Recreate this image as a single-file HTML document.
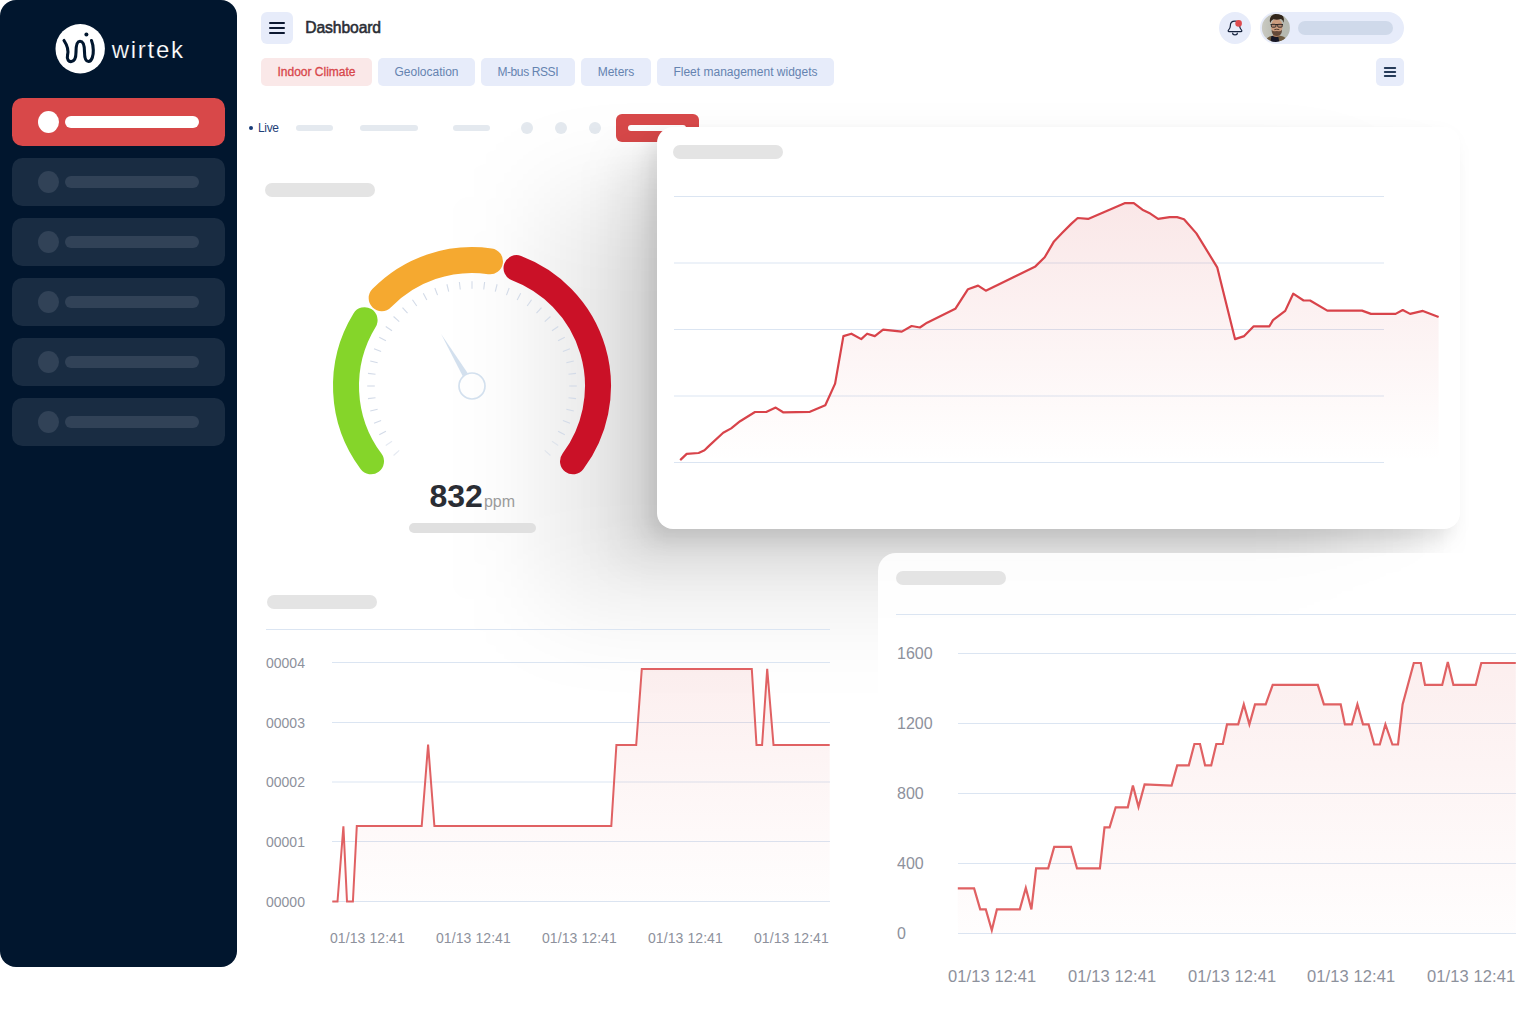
<!DOCTYPE html>
<html><head><meta charset="utf-8">
<style>
*{margin:0;padding:0;box-sizing:border-box}
html,body{width:1540px;height:1011px;overflow:hidden;background:#fff;font-family:"Liberation Sans",sans-serif}
.abs{position:absolute}
#side{left:0;top:0;width:237px;height:967px;background:#01162e;border-radius:16px}
.item{position:absolute;left:12px;width:213px;height:48px;border-radius:10.5px;background:#192c42}
.item i{position:absolute;left:26px;top:13px;width:21px;height:22px;border-radius:50%;background:#314257}
.item b{position:absolute;left:53px;top:18px;width:134px;height:12px;border-radius:6px;background:#314257}
.item.act{background:#d84849}
.item.act i,.item.act b{background:#fff}
.tab{position:absolute;top:58px;height:28px;border-radius:5px;background:#e7ecfa;color:#6583b0;font-size:12px;line-height:28px;text-align:center;white-space:nowrap}
.ph{position:absolute;background:#e4e4e4;border-radius:7px;height:14px}
.lb{position:absolute;background:#e4e9ef;border-radius:3px;height:6px;top:125px}
.lc{position:absolute;background:#e4e9ef;border-radius:50%;width:12px;height:12px;top:122px}
.yl{position:absolute;color:#8d919c;white-space:nowrap}
svg{position:absolute;left:0;top:0;overflow:visible}
</style></head><body>

<!-- sidebar -->
<div id="side" class="abs">
 <svg width="237" height="100" viewBox="0 0 237 100">
  <circle cx="80.2" cy="48.7" r="24.7" fill="#fff"/>
  <path d="M64 40.5 C67 45,69 50,67.5 55.5 C66.5 59.5,69 62,71.5 61.5 C75 61,76 57,76 52 C76 46,77 41.2,80 41.2 C83.5 41.2,84.5 46,84.5 52 C84.5 58,86 61.5,88.5 61.5 C92 61.5,93.5 55,93.3 50 C93.2 46,92.5 43,91.5 40.5" fill="none" stroke="#01162e" stroke-width="3.1" stroke-linecap="round"/>
  <circle cx="86.4" cy="34.4" r="2" fill="#01162e"/>
  <text x="111.7" y="58" font-size="24" fill="#fff" stroke="#01162e" stroke-width="0.2" paint-order="fill stroke" font-family="Liberation Sans" letter-spacing="1.75">wirtek</text>
 </svg>
 <div class="item act" style="top:98px"><i></i><b></b></div>
 <div class="item" style="top:158px"><i></i><b></b></div>
 <div class="item" style="top:218px"><i></i><b></b></div>
 <div class="item" style="top:278px"><i></i><b></b></div>
 <div class="item" style="top:338px"><i></i><b></b></div>
 <div class="item" style="top:398px"><i></i><b></b></div>
</div>

<!-- header -->
<div class="abs" style="left:261px;top:12px;width:32px;height:32px;border-radius:6px;background:#e7ecfa"></div>
<svg width="1540" height="110" viewBox="0 0 1540 110">
 <g stroke="#0b1730" stroke-width="2" stroke-linecap="round">
  <line x1="270" y1="23" x2="284" y2="23"/><line x1="270" y1="28" x2="284" y2="28"/><line x1="270" y1="33" x2="284" y2="33"/>
 </g>
</svg>
<div class="abs" style="left:305.3px;top:18px;font-size:15.7px;line-height:20px;color:#2a2d34;letter-spacing:-0.12px;-webkit-text-stroke:0.55px #2a2d34;white-space:nowrap">Dashboard</div>

<div class="tab" style="left:261px;width:111px;background:#fae8e8;color:#d8474b;-webkit-text-stroke:0.3px #d8474b">Indoor Climate</div>
<div class="tab" style="left:378px;width:97px">Geolocation</div>
<div class="tab" style="left:481px;width:93.5px;letter-spacing:-0.4px">M-bus RSSI</div>
<div class="tab" style="left:581px;width:70px">Meters</div>
<div class="tab" style="left:657px;width:177px">Fleet management widgets</div>

<!-- bell -->
<div class="abs" style="left:1219px;top:12px;width:32px;height:32px;border-radius:50%;background:#e7ecfa"></div>
<svg width="1540" height="60" viewBox="0 0 1540 60">
 <g transform="translate(0,0)"><path d="M1229 31.6 L1241 31.6 C1241.9 31.6 1242.1 30.8 1241.5 30.2 C1240.2 28.9 1239.7 27.8 1239.7 26 C1239.7 23.1 1237.7 21.2 1235 21.2 C1232.3 21.2 1230.3 23.1 1230.3 26 C1230.3 27.8 1229.8 28.9 1228.5 30.2 C1227.9 30.8 1228.1 31.6 1229 31.6 Z" fill="none" stroke="#15223d" stroke-width="1.2" stroke-linejoin="round"/>
 <path d="M1232.7 33.2 a2.3 1.6 0 0 0 4.6 0" fill="none" stroke="#15223d" stroke-width="1.2" stroke-linecap="round"/></g>
 <circle cx="1238.6" cy="23.4" r="3.3" fill="#de4a4d"/>
</svg>
<!-- user pill -->
<div class="abs" style="left:1260px;top:12px;width:144px;height:32px;border-radius:16px;background:#e7ecfa"></div>
<div class="abs" style="left:1298px;top:21px;width:95px;height:14px;border-radius:7px;background:#cfd9ea"></div>
<svg width="1540" height="60" viewBox="0 0 1540 60">
 <defs><clipPath id="av"><circle cx="1275.9" cy="27.9" r="14"/></clipPath>
  <filter id="avb" x="-20%" y="-20%" width="140%" height="140%"><feGaussianBlur stdDeviation="0.45"/></filter>
  <linearGradient id="avbg" x1="0" x2="1" y1="0" y2="0"><stop offset="0" stop-color="#cbcbc3"/><stop offset="0.5" stop-color="#b7b9b0"/><stop offset="1" stop-color="#b4b8b0"/></linearGradient>
 </defs>
 <g clip-path="url(#av)">
  <rect x="1261" y="13" width="30" height="30" fill="url(#avbg)"/>
  <g filter="url(#avb)">
   <path d="M1264.500 42 q1.500 -5 8 -6.200 l7.500 0 q7 1.200 8.500 6.200 z" fill="#6d5a40"/>
   <path d="M1271.400 36 l6.800 0 l1.200 6.500 l-9 0 z" fill="#151925"/>
   <path d="M1273 31 l6.800 0 l0 5 q-3.400 2.200 -6.800 0 z" fill="#b08162"/>
   <ellipse cx="1276.800" cy="26.200" rx="5.800" ry="7.500" fill="#cc9c7e"/>
   <path d="M1270.200 23 q-1.200 -4.500 1.200 -7 q2 -2.200 5.500 -2.300 q4.500 -0.200 6.300 2.800 q1.400 2.600 0.400 6.300 q-0.800 -3 -2.600 -3.700 q-3.800 1 -7.600 0.200 q-2.400 0.900 -3.200 3.700z" fill="#33251c"/>
   <path d="M1271.600 29.800 q1.500 1.800 3.300 1.500 q1.900 -0.700 3.800 0 q1.800 0.300 3.300 -1.500 q0 4.800 -3 5.800 q-2.200 0.700 -4.400 0 q-3 -1 -3 -5.800z" fill="#5b4133" opacity="0.9"/>
   <path d="M1274.300 29.700 q2.500 -1 5 0" stroke="#4a3428" stroke-width="0.9" fill="none"/>
   <path d="M1270.600 24.600 h12.400" stroke="#1c1a1c" stroke-width="1"/>
   <rect x="1271.400" y="24.300" width="4.500" height="2.900" rx="1" fill="#b58a72" stroke="#1c1a1c" stroke-width="0.8"/>
   <rect x="1277.700" y="24.300" width="4.500" height="2.900" rx="1" fill="#b58a72" stroke="#1c1a1c" stroke-width="0.8"/>
  </g>
 </g>
</svg>

<!-- small menu btn -->
<div class="abs" style="left:1376px;top:58px;width:28px;height:28px;border-radius:5px;background:#e7ecfa"></div>
<svg width="1540" height="110" viewBox="0 0 1540 110">
 <g stroke="#263b59" stroke-width="2" stroke-linecap="round">
  <line x1="1384.8" y1="68" x2="1395.2" y2="68"/><line x1="1384.8" y1="72" x2="1395.2" y2="72"/><line x1="1384.8" y1="76" x2="1395.2" y2="76"/>
 </g>
</svg>

<!-- live row -->
<div class="abs" style="left:248.7px;top:125.8px;width:4.4px;height:4.4px;border-radius:50%;background:#163a78"></div>
<div class="abs" style="left:258px;top:121px;font-size:12px;line-height:14px;color:#1f3f78;letter-spacing:-0.35px">Live</div>
<div class="lb" style="left:296px;width:37px"></div>
<div class="lb" style="left:360px;width:58px"></div>
<div class="lb" style="left:453px;width:37px"></div>
<div class="lc" style="left:521px"></div>
<div class="lc" style="left:555px"></div>
<div class="lc" style="left:589px"></div>
<div class="abs" style="left:616px;top:114px;width:83px;height:28px;border-radius:6px;background:#d84849"></div>
<div class="abs" style="left:628px;top:125px;width:58px;height:6px;border-radius:3px;background:#fff"></div>

<!-- big card shadow (below br card) -->
<svg width="1540" height="1011" viewBox="0 0 1540 1011" style="pointer-events:none">
 <defs>
  <filter id="f1" filterUnits="userSpaceOnUse" x="300" y="-100" width="1500" height="1000"><feGaussianBlur stdDeviation="9"/></filter>
  <filter id="f2" filterUnits="userSpaceOnUse" x="200" y="-200" width="1700" height="1300"><feGaussianBlur stdDeviation="22"/></filter>
  <filter id="f3" filterUnits="userSpaceOnUse" x="0" y="-300" width="2000" height="1600"><feGaussianBlur stdDeviation="50"/></filter>
 </defs>
 <rect x="547" y="197" width="803" height="402" rx="16" fill="#000" fill-opacity="0.095" filter="url(#f3)"/>
 <rect x="622" y="157" width="803" height="402" rx="16" fill="#000" fill-opacity="0.09" filter="url(#f2)"/>
 <rect x="649" y="137" width="803" height="402" rx="16" fill="#000" fill-opacity="0.095" filter="url(#f1)"/>
</svg>

<!-- gauge -->
<div class="ph" style="left:265px;top:183px;width:110px"></div>
<svg width="1540" height="1011" viewBox="0 0 1540 1011">
 <g fill="none" stroke-width="26" stroke-linecap="round">
  <path d="M370.98,461.30 A126.0,126.0 0 0 1 364.57,320.17" stroke="#85d52a"/>
  <path d="M381.67,298.16 A126.0,126.0 0 0 1 489.97,261.29" stroke="#f5a930"/>
  <path d="M516.54,268.13 A126.0,126.0 0 0 1 573.02,461.30" stroke="#ca1127"/>
 </g>
 <g stroke="#d3dbe8" stroke-width="1.1">
<line x1="544.76" y1="450.46" x2="550.44" y2="455.50" opacity="0.6"/>
<line x1="551.99" y1="441.22" x2="558.25" y2="445.53" opacity="0.6"/>
<line x1="558.07" y1="431.17" x2="564.80" y2="434.70" opacity="1.0"/>
<line x1="562.88" y1="420.47" x2="569.99" y2="423.16" opacity="1.0"/>
<line x1="566.38" y1="409.26" x2="573.75" y2="411.08" opacity="1.0"/>
<line x1="568.49" y1="397.72" x2="576.04" y2="398.63" opacity="1.0"/>
<line x1="569.20" y1="386.00" x2="576.80" y2="386.00" opacity="1.0"/>
<line x1="568.49" y1="374.28" x2="576.04" y2="373.37" opacity="1.0"/>
<line x1="566.38" y1="362.74" x2="573.75" y2="360.92" opacity="1.0"/>
<line x1="562.88" y1="351.53" x2="569.99" y2="348.84" opacity="1.0"/>
<line x1="558.07" y1="340.83" x2="564.80" y2="337.30" opacity="1.0"/>
<line x1="551.99" y1="330.78" x2="558.25" y2="326.47" opacity="1.0"/>
<line x1="544.76" y1="321.54" x2="550.44" y2="316.50" opacity="1.0"/>
<line x1="536.46" y1="313.24" x2="541.50" y2="307.56" opacity="1.0"/>
<line x1="527.22" y1="306.01" x2="531.53" y2="299.75" opacity="1.0"/>
<line x1="517.17" y1="299.93" x2="520.70" y2="293.20" opacity="1.0"/>
<line x1="506.47" y1="295.12" x2="509.16" y2="288.01" opacity="1.0"/>
<line x1="495.26" y1="291.62" x2="497.08" y2="284.25" opacity="1.0"/>
<line x1="483.72" y1="289.51" x2="484.63" y2="281.96" opacity="1.0"/>
<line x1="472.00" y1="288.80" x2="472.00" y2="281.20" opacity="1.0"/>
<line x1="460.28" y1="289.51" x2="459.37" y2="281.96" opacity="1.0"/>
<line x1="448.74" y1="291.62" x2="446.92" y2="284.25" opacity="1.0"/>
<line x1="437.53" y1="295.12" x2="434.84" y2="288.01" opacity="1.0"/>
<line x1="426.83" y1="299.93" x2="423.30" y2="293.20" opacity="1.0"/>
<line x1="416.78" y1="306.01" x2="412.47" y2="299.75" opacity="1.0"/>
<line x1="407.54" y1="313.24" x2="402.50" y2="307.56" opacity="1.0"/>
<line x1="399.24" y1="321.54" x2="393.56" y2="316.50" opacity="1.0"/>
<line x1="392.01" y1="330.78" x2="385.75" y2="326.47" opacity="1.0"/>
<line x1="385.93" y1="340.83" x2="379.20" y2="337.30" opacity="1.0"/>
<line x1="381.12" y1="351.53" x2="374.01" y2="348.84" opacity="1.0"/>
<line x1="377.62" y1="362.74" x2="370.25" y2="360.92" opacity="1.0"/>
<line x1="375.51" y1="374.28" x2="367.96" y2="373.37" opacity="1.0"/>
<line x1="374.80" y1="386.00" x2="367.20" y2="386.00" opacity="1.0"/>
<line x1="375.51" y1="397.72" x2="367.96" y2="398.63" opacity="1.0"/>
<line x1="377.62" y1="409.26" x2="370.25" y2="411.08" opacity="1.0"/>
<line x1="381.12" y1="420.47" x2="374.01" y2="423.16" opacity="1.0"/>
<line x1="385.93" y1="431.17" x2="379.20" y2="434.70" opacity="1.0"/>
<line x1="392.01" y1="441.22" x2="385.75" y2="445.53" opacity="0.6"/>
<line x1="399.24" y1="450.46" x2="393.56" y2="455.50" opacity="0.6"/>
 </g>
 <path d="M441.11,333.98 L467.75,373.17 L462.77,376.13 Z" fill="#d3e0ee"/>
 <circle cx="472.0" cy="386.0" r="13" fill="none" stroke="#d3e0ee" stroke-width="1.7"/>
</svg>
<div class="abs" style="left:429.5px;top:477px;font-size:32px;line-height:38px;font-weight:bold;color:#2a2d34;white-space:nowrap">832<span style="font-size:16px;font-weight:normal;color:#9b9b9b;margin-left:1px">ppm</span></div>
<div class="ph" style="left:409px;top:523px;width:127px;height:10px;border-radius:5px;background:#e0e0e0"></div>

<!-- bottom-left chart -->
<div class="ph" style="left:267px;top:595px;width:110px"></div>
<svg width="1540" height="1011" viewBox="0 0 1540 1011">
 <defs><linearGradient id="g1" x1="0" y1="668" x2="0" y2="902" gradientUnits="userSpaceOnUse"><stop offset="0" stop-color="#e05a5a" stop-opacity="0.10"/><stop offset="1" stop-color="#e05a5a" stop-opacity="0.01"/></linearGradient></defs>
 <g stroke="#dbe5f2" stroke-width="1">
  <line x1="266" y1="629.5" x2="830" y2="629.5"/>
  <line x1="332" y1="662.5" x2="830" y2="662.5"/><line x1="332" y1="722.5" x2="830" y2="722.5"/><line x1="332" y1="782" x2="830" y2="782"/><line x1="332" y1="841.5" x2="830" y2="841.5"/><line x1="332" y1="901.5" x2="830" y2="901.5"/>
 </g>
 <path d="M332.3,901.6 L332.3,901.6 L337.5,901.6 L343.4,826.4 L347.0,901.6 L352.9,901.6 L356.8,826.0 L421.7,826.0 L428.1,744.5 L434.4,826.0 L611.3,826.0 L616.4,744.9 L636.2,744.9 L641.8,668.9 L751.8,668.9 L756.5,744.9 L762.1,744.9 L767.2,668.9 L773.5,744.9 L829.7,744.9 L829.7,901.6 Z" fill="url(#g1)"/>
 <polyline points="332.3,901.6 337.5,901.6 343.4,826.4 347.0,901.6 352.9,901.6 356.8,826.0 421.7,826.0 428.1,744.5 434.4,826.0 611.3,826.0 616.4,744.9 636.2,744.9 641.8,668.9 751.8,668.9 756.5,744.9 762.1,744.9 767.2,668.9 773.5,744.9 829.7,744.9" fill="none" stroke="#e06163" stroke-width="2" stroke-linejoin="miter"/>
</svg>
<div class="yl" style="left:266px;top:654.5px;font-size:14px;line-height:16px">00004</div>
<div class="yl" style="left:266px;top:714.5px;font-size:14px;line-height:16px">00003</div>
<div class="yl" style="left:266px;top:774.0px;font-size:14px;line-height:16px">00002</div>
<div class="yl" style="left:266px;top:833.5px;font-size:14px;line-height:16px">00001</div>
<div class="yl" style="left:266px;top:893.5px;font-size:14px;line-height:16px">00000</div>
<div class="yl" style="left:330px;top:930px;font-size:14px;line-height:16px;letter-spacing:0.08px">01/13 12:41</div>
<div class="yl" style="left:436px;top:930px;font-size:14px;line-height:16px;letter-spacing:0.08px">01/13 12:41</div>
<div class="yl" style="left:542px;top:930px;font-size:14px;line-height:16px;letter-spacing:0.08px">01/13 12:41</div>
<div class="yl" style="left:648px;top:930px;font-size:14px;line-height:16px;letter-spacing:0.08px">01/13 12:41</div>
<div class="yl" style="left:754px;top:930px;font-size:14px;line-height:16px;letter-spacing:0.08px">01/13 12:41</div>


<!-- bottom-right card -->
<div class="abs" style="left:878px;top:553px;width:700px;height:500px;border-radius:18px;background:rgba(255,255,255,0.9)"></div>
<div class="ph" style="left:896px;top:571px;width:110px"></div>
<svg width="1540" height="1011" viewBox="0 0 1540 1011">
 <defs><linearGradient id="g2" x1="0" y1="662" x2="0" y2="934" gradientUnits="userSpaceOnUse"><stop offset="0" stop-color="#e05a5a" stop-opacity="0.10"/><stop offset="1" stop-color="#e05a5a" stop-opacity="0.01"/></linearGradient></defs>
 <g stroke="#dbe5f2" stroke-width="1">
  <line x1="896" y1="614.5" x2="1516" y2="614.5"/>
  <line x1="958" y1="653.5" x2="1516" y2="653.5"/><line x1="958" y1="723.5" x2="1516" y2="723.5"/><line x1="958" y1="793.5" x2="1516" y2="793.5"/><line x1="958" y1="863.5" x2="1516" y2="863.5"/><line x1="958" y1="933.5" x2="1516" y2="933.5"/>
 </g>
 <path d="M957.8,933.5 L957.8,888.4 L974.1,888.4 L980.2,909.4 L985.8,909.4 L991.8,930.3 L996.9,909.4 L1019.8,909.4 L1025.8,887.9 L1031.4,909.4 L1036.1,868.4 L1048.2,868.4 L1054.2,846.9 L1071.0,846.9 L1077.0,868.4 L1099.9,868.4 L1104.5,827.4 L1109.6,827.4 L1115.7,807.3 L1127.8,807.3 L1132.9,785.5 L1138.5,806.9 L1144.6,784.5 L1171.6,785.5 L1177.2,765.4 L1188.8,765.4 L1194.4,744.0 L1200.0,744.0 L1205.1,765.4 L1211.2,765.4 L1216.3,744.0 L1222.8,744.0 L1227.0,724.4 L1238.2,724.4 L1243.8,704.4 L1249.4,724.4 L1255.0,704.4 L1265.7,704.4 L1272.7,684.9 L1317.8,684.9 L1323.9,704.4 L1340.7,704.4 L1344.9,724.4 L1351.8,724.4 L1357.4,704.4 L1363.0,724.4 L1368.6,724.4 L1374.2,744.5 L1379.8,744.5 L1385.4,724.4 L1392.4,744.5 L1398.0,744.5 L1402.6,704.4 L1413.8,663.0 L1420.8,663.0 L1425.0,684.9 L1442.2,684.9 L1447.8,662.0 L1453.4,684.9 L1475.7,684.9 L1481.3,663.0 L1515.8,663.0 L1515.8,933.5 Z" fill="url(#g2)"/>
 <polyline points="957.8,888.4 974.1,888.4 980.2,909.4 985.8,909.4 991.8,930.3 996.9,909.4 1019.8,909.4 1025.8,887.9 1031.4,909.4 1036.1,868.4 1048.2,868.4 1054.2,846.9 1071.0,846.9 1077.0,868.4 1099.9,868.4 1104.5,827.4 1109.6,827.4 1115.7,807.3 1127.8,807.3 1132.9,785.5 1138.5,806.9 1144.6,784.5 1171.6,785.5 1177.2,765.4 1188.8,765.4 1194.4,744.0 1200.0,744.0 1205.1,765.4 1211.2,765.4 1216.3,744.0 1222.8,744.0 1227.0,724.4 1238.2,724.4 1243.8,704.4 1249.4,724.4 1255.0,704.4 1265.7,704.4 1272.7,684.9 1317.8,684.9 1323.9,704.4 1340.7,704.4 1344.9,724.4 1351.8,724.4 1357.4,704.4 1363.0,724.4 1368.6,724.4 1374.2,744.5 1379.8,744.5 1385.4,724.4 1392.4,744.5 1398.0,744.5 1402.6,704.4 1413.8,663.0 1420.8,663.0 1425.0,684.9 1442.2,684.9 1447.8,662.0 1453.4,684.9 1475.7,684.9 1481.3,663.0 1515.8,663.0" fill="none" stroke="#e06163" stroke-width="2.2" stroke-linejoin="miter"/>
</svg>
<div class="yl" style="left:897px;top:643.7px;font-size:16px;line-height:20px">1600</div>
<div class="yl" style="left:897px;top:713.7px;font-size:16px;line-height:20px">1200</div>
<div class="yl" style="left:897px;top:783.7px;font-size:16px;line-height:20px">800</div>
<div class="yl" style="left:897px;top:853.7px;font-size:16px;line-height:20px">400</div>
<div class="yl" style="left:897px;top:923.7px;font-size:16px;line-height:20px">0</div>
<div class="yl" style="left:948px;top:966px;font-size:16.5px;line-height:20px;letter-spacing:0.1px">01/13 12:41</div>
<div class="yl" style="left:1068px;top:966px;font-size:16.5px;line-height:20px;letter-spacing:0.1px">01/13 12:41</div>
<div class="yl" style="left:1188px;top:966px;font-size:16.5px;line-height:20px;letter-spacing:0.1px">01/13 12:41</div>
<div class="yl" style="left:1307px;top:966px;font-size:16.5px;line-height:20px;letter-spacing:0.1px">01/13 12:41</div>
<div class="yl" style="left:1427px;top:966px;font-size:16.5px;line-height:20px;letter-spacing:0.1px">01/13 12:41</div>

<!-- big card -->
<div class="abs" style="left:657px;top:127px;width:803px;height:402px;border-radius:16px;background:#fff"></div>
<div class="ph" style="left:673px;top:145px;width:110px"></div>
<svg width="1540" height="1011" viewBox="0 0 1540 1011">
 <defs><linearGradient id="g3" x1="0" y1="203" x2="0" y2="462" gradientUnits="userSpaceOnUse"><stop offset="0" stop-color="#d9474b" stop-opacity="0.13"/><stop offset="1" stop-color="#d9474b" stop-opacity="0.0"/></linearGradient></defs>
 <g stroke="#dbe5f2" stroke-width="1">
  <line x1="674" y1="196.5" x2="1384" y2="196.5"/><line x1="674" y1="263" x2="1384" y2="263"/><line x1="674" y1="329.5" x2="1384" y2="329.5"/><line x1="674" y1="396" x2="1384" y2="396"/><line x1="674" y1="462.5" x2="1384" y2="462.5"/>
 </g>
 <path d="M680.2,462.5 L680.2,460.1 L686.7,453.9 L698.6,453.0 L704.5,450.3 L709.0,445.9 L723.2,432.8 L731.2,428.4 L740.1,421.2 L755.0,412.0 L766.2,412.0 L775.7,407.6 L783.1,412.3 L809.9,411.8 L825.3,405.2 L835.1,383.6 L843.4,336.1 L851.4,333.7 L861.2,339.1 L867.1,333.7 L874.8,336.1 L883.1,329.6 L901.8,331.6 L911.6,326.0 L919.9,327.5 L927.1,322.7 L955.3,308.8 L968.0,289.2 L978.1,285.6 L985.8,290.7 L1035.4,266.4 L1044.7,257.3 L1054.0,241.4 L1062.3,232.8 L1071.2,223.9 L1077.7,218.0 L1088.1,218.9 L1124.6,203.2 L1133.8,203.2 L1142.4,209.7 L1149.2,212.9 L1158.1,218.9 L1169.7,217.1 L1177.1,217.1 L1184.0,219.2 L1196.4,233.4 L1217.2,267.3 L1235.0,339.1 L1244.2,336.1 L1253.7,326.3 L1269.4,326.3 L1273.0,320.1 L1285.2,310.9 L1293.2,293.7 L1303.6,300.5 L1310.1,300.5 L1327.3,310.6 L1362.0,310.6 L1371.0,313.9 L1395.6,313.9 L1402.7,310.0 L1410.1,313.9 L1422.9,310.9 L1438.6,317.1 L1438.6,462.5 Z" fill="url(#g3)"/>
 <polyline points="680.2,460.1 686.7,453.9 698.6,453.0 704.5,450.3 709.0,445.9 723.2,432.8 731.2,428.4 740.1,421.2 755.0,412.0 766.2,412.0 775.7,407.6 783.1,412.3 809.9,411.8 825.3,405.2 835.1,383.6 843.4,336.1 851.4,333.7 861.2,339.1 867.1,333.7 874.8,336.1 883.1,329.6 901.8,331.6 911.6,326.0 919.9,327.5 927.1,322.7 955.3,308.8 968.0,289.2 978.1,285.6 985.8,290.7 1035.4,266.4 1044.7,257.3 1054.0,241.4 1062.3,232.8 1071.2,223.9 1077.7,218.0 1088.1,218.9 1124.6,203.2 1133.8,203.2 1142.4,209.7 1149.2,212.9 1158.1,218.9 1169.7,217.1 1177.1,217.1 1184.0,219.2 1196.4,233.4 1217.2,267.3 1235.0,339.1 1244.2,336.1 1253.7,326.3 1269.4,326.3 1273.0,320.1 1285.2,310.9 1293.2,293.7 1303.6,300.5 1310.1,300.5 1327.3,310.6 1362.0,310.6 1371.0,313.9 1395.6,313.9 1402.7,310.0 1410.1,313.9 1422.9,310.9 1438.6,317.1" fill="none" stroke="#d8434a" stroke-width="2.2" stroke-linejoin="round"/>
</svg>
</body></html>
